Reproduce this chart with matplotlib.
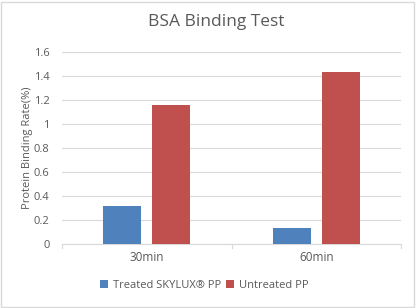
import numpy as np
import matplotlib.pyplot as plt
from matplotlib.patches import Rectangle

categories = ["30min", "60min"]
treated = [0.32, 0.13]
untreated = [1.16, 1.43]
series_names = ["Treated SKYLUX\u00ae PP", "Untreated PP"]
yticks = [0, 0.2, 0.4, 0.6, 0.8, 1, 1.2, 1.4, 1.6]
ytick_labels = ["0", "0.2", "0.4", "0.6", "0.8", "1", "1.2", "1.4", "1.6"]

plt.rcParams['font.family'] = ['Open Sans', 'DejaVu Sans']
text_col = '#595959'

fig = plt.figure(figsize=(4.16, 3.08), dpi=100)
fig.patches.append(Rectangle((0.002, 0.003), 0.994, 0.992, transform=fig.transFigure,
                             fill=False, edgecolor='#D9D9D9', linewidth=1))
ax = fig.add_axes([0.149, 0.208, 0.815, 0.623])

x = np.arange(len(categories))
w = 0.224
ax.bar(x - 0.145, treated, w, color='#4F81BD', label=series_names[0], zorder=3)
ax.bar(x + 0.145, untreated, w, color='#C0504D', label=series_names[1], zorder=3)

ax.set_xlim(-0.5, 1.5)
ax.set_ylim(0, 1.6)
ax.set_yticks(yticks)
ax.set_yticklabels(ytick_labels)
ax.set_xticks(x)
ax.set_xticklabels(categories)
ax.yaxis.grid(True, color='#D9D9D9', linewidth=0.8, zorder=0)
for s in ['top', 'right', 'left']:
    ax.spines[s].set_visible(False)
ax.spines['bottom'].set_color('#D9D9D9')
ax.tick_params(axis='y', length=0, labelsize=8, labelcolor=text_col, pad=9)
ax.tick_params(axis='x', length=0, labelsize=8.5, labelcolor=text_col, pad=5)
for b in [-0.5, 0.5, 1.5]:
    ax.plot([b, b], [0, -0.03], color='#D9D9D9', linewidth=0.8, clip_on=False)

ax.set_ylabel("Protein Binding Rate(%)", fontsize=8, color=text_col)
ax.yaxis.set_label_coords(-0.086, 0.5)
fig.text(0.52, 0.928, "BSA Binding Test", ha='center', va='center', fontsize=12.5, color=text_col)

ax.legend(loc='upper center', bbox_to_anchor=(0.42, -0.135), ncol=2, frameon=False,
          fontsize=8, labelcolor=text_col, handlelength=0.7, handleheight=0.7,
          handletextpad=0.4, columnspacing=0.5)

fig.savefig("out.png", dpi=100)
